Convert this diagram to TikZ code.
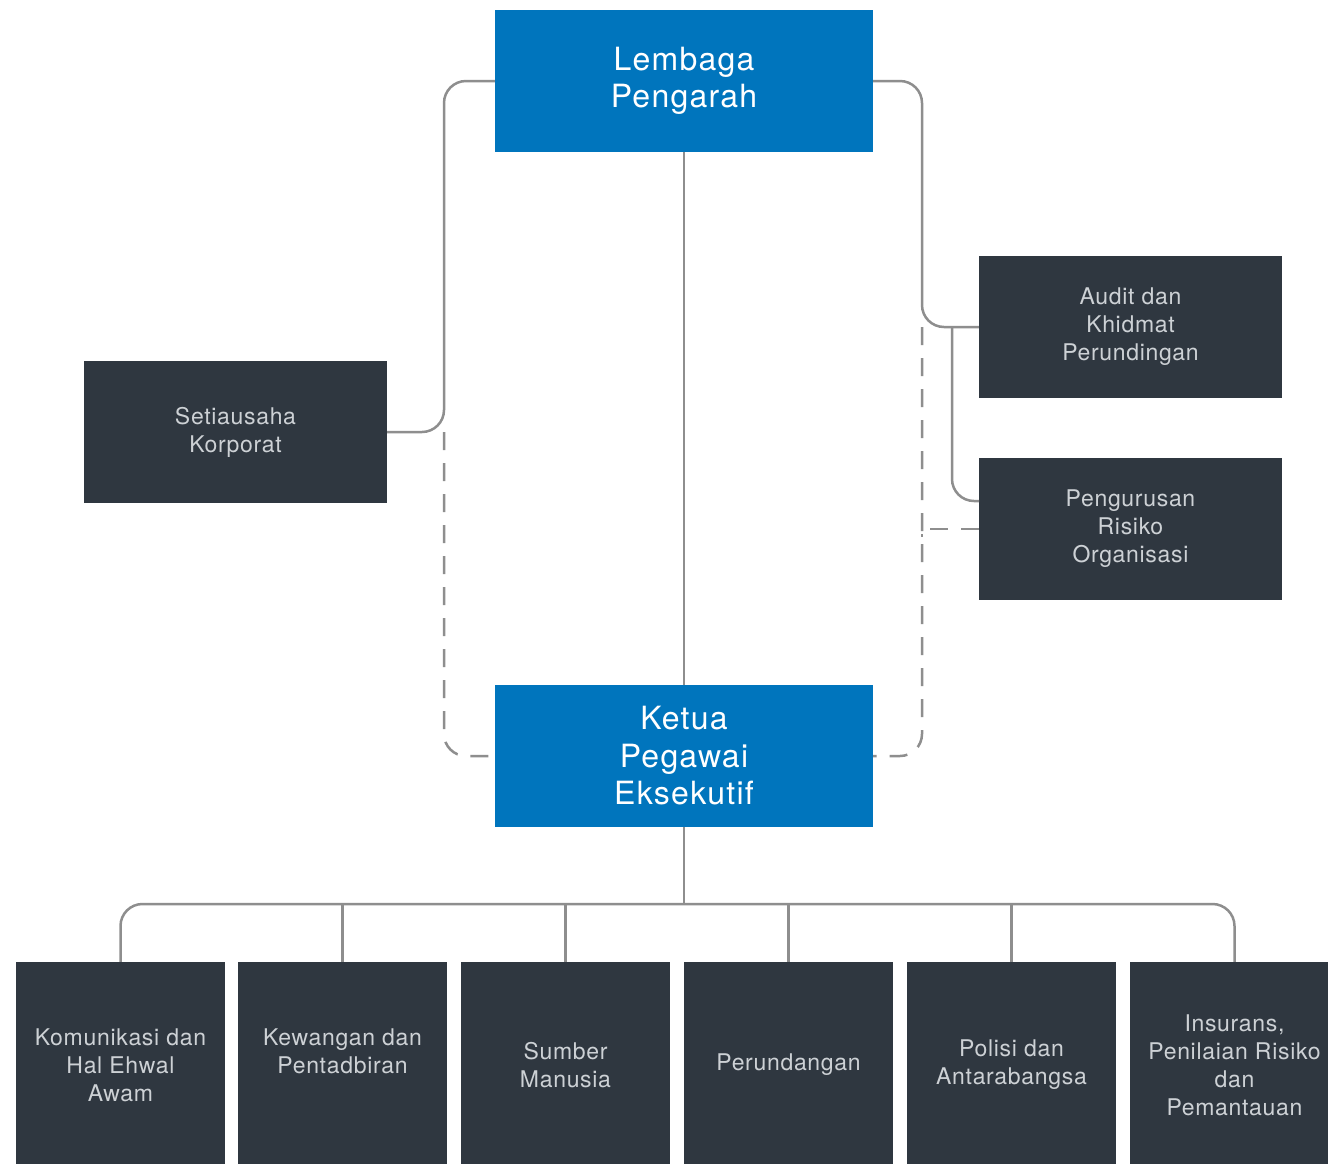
\documentclass[tikz,border=0pt]{standalone}
\usepackage{fontspec}
\setmainfont{TeX Gyre Heros}
\newfontfamily\smallfnt[LetterSpace=3]{TeX Gyre Heros}
\newfontfamily\titlefnt[LetterSpace=4]{TeX Gyre Heros}
\definecolor{blueb}{HTML}{0075BD}
\definecolor{darkb}{HTML}{2F3740}
\definecolor{lineg}{HTML}{8E8E8E}
\definecolor{txtg}{HTML}{CDD1D5}
\begin{document}
\begin{tikzpicture}[x=1pt,y=-1pt,
  bluebox/.style={fill=blueb,draw=none,minimum width=378pt,minimum height=142pt,inner sep=0pt,align=center,text=white,font=\titlefnt\fontsize{32}{37.5}\selectfont},
  darkbox/.style={fill=darkb,draw=none,minimum width=303pt,minimum height=142pt,inner sep=0pt,align=center,text=txtg,font=\smallfnt\fontsize{23}{28}\selectfont},
  botbox/.style={fill=darkb,draw=none,minimum width=209pt,minimum height=206pt,inner sep=0pt,align=center,text=txtg,font=\smallfnt\fontsize{23}{28}\selectfont},
  conn/.style={draw=lineg,line width=2.5pt,rounded corners=22pt},
  dconn/.style={conn,dash pattern=on 18pt off 13pt}]
\useasboundingbox (0,0) rectangle (1328,1163);
\fill[white] (0,0) rectangle (1328,1163);
% nodes
\node[bluebox] (LP) at (684,81) {Lembaga\\Pengarah};
\node[bluebox] (KPE) at (684,756) {Ketua\\Pegawai\\Eksekutif};
\node[darkbox] (SK) at (235.5,432) {Setiausaha\\Korporat};
\node[darkbox] (AK) at (1130.5,327) {Audit dan\\Khidmat\\Perundingan};
\node[darkbox] (PR) at (1130.5,529) {Pengurusan\\Risiko\\Organisasi};
\node[botbox] (b1) at (120.5,1065) {Komunikasi dan\\Hal Ehwal\\Awam};
\node[botbox] (b2) at (342.5,1065) {Kewangan dan\\Pentadbiran\\\phantom{A}};
\node[botbox] (b3) at (565.5,1065) {Sumber\\Manusia};
\node[botbox] (b4) at (788.5,1065) {Perundangan};
\node[botbox] (b5) at (1011.5,1065) {Polisi dan\\Antarabangsa};
\node[botbox] (b6) at (1234.5,1065) {Insurans,\\Penilaian Risiko\\dan\\Pemantauan};
% helper coordinates
\coordinate (lx) at (444,0);
\coordinate (rx) at (922,0);
\coordinate (bx) at (952,0);
\coordinate (bus) at (0,904);
\coordinate (prj) at (979,501);
% connectors
\draw[conn] (LP.south) -- (KPE.north);
\draw[conn] (LP.west) -| (lx |- SK.east) -- (SK.east);
\draw[dconn] (lx |- SK.east) |- (KPE.west);
\draw[conn] (LP.east) -| (rx |- AK.west) -- (AK.west);
\draw[dconn] (rx |- AK.west) |- (KPE.east);
\draw[conn] (bx |- AK.west) |- (prj);
\draw[dconn,rounded corners=0pt] (PR.west) -- (rx |- PR.west) -- ++(0,8);
\draw[conn] (KPE.south) -- (KPE.south |- bus);
\draw[conn] (b1.north) |- (KPE.south |- bus) -| (b6.north);
\foreach \b in {b2,b3,b4,b5} \draw[conn] (\b.north) -- (\b.north |- bus);
\end{tikzpicture}
\end{document}
